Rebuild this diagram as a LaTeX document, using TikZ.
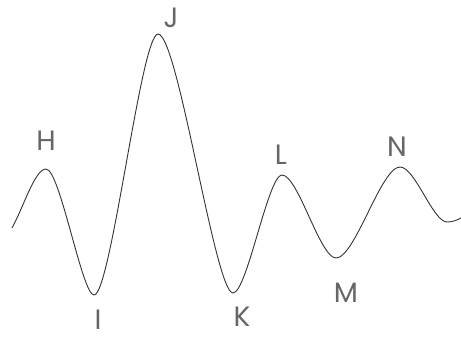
\documentclass[tikz,border=0pt]{standalone}
\usepackage{fontspec}
\setmainfont{Poppins}
\definecolor{lbl}{HTML}{666666}
\definecolor{wave}{HTML}{333333}
\tikzset{
  lab/.style={text=lbl, font=\fontsize{28}{30}\selectfont, inner sep=0pt, anchor=center},
  waveline/.style={draw=wave, line width=0.9pt, line join=round}
}
\begin{document}
\begin{tikzpicture}[x=1pt,y=-1pt]
\useasboundingbox (0,0) rectangle (461,338);
\coordinate (s) at (12,228);
\coordinate (h) at (46,169);
\coordinate (i) at (94,295);
\coordinate (j) at (158,34);
\coordinate (k) at (233,293);
\coordinate (l) at (282,175);
\coordinate (m) at (336,258);
\coordinate (n) at (400,167);
\coordinate (d) at (447,222);
\coordinate (e) at (461,218);
\draw[waveline] (s) .. controls +(12,-22) and +(-11,0) .. (h)
  .. controls +(14,0) and +(-12,0) .. (i)
  .. controls +(17,0) and +(-17,0) .. (j)
  .. controls +(20,0) and +(-18,0) .. (k)
  .. controls +(14,0) and +(-14,0) .. (l)
  .. controls +(16,0) and +(-16,0) .. (m)
  .. controls +(19,0) and +(-19,0) .. (n)
  .. controls +(15,0) and +(-14,0) .. (d)
  .. controls +(6,0) and +(-4,2) .. (e);
\node[lab] (H) at (46,141) {H};
\node[lab] (I) at (98,320) {I};
\node[lab] (J) at (171,18) {J};
\node[lab] (K) at (242,317) {K};
\node[lab] (L) at (281,155) {L};
\node[lab] (M) at (346,293) {M};
\node[lab] (N) at (397,147) {N};
\end{tikzpicture}
\end{document}
